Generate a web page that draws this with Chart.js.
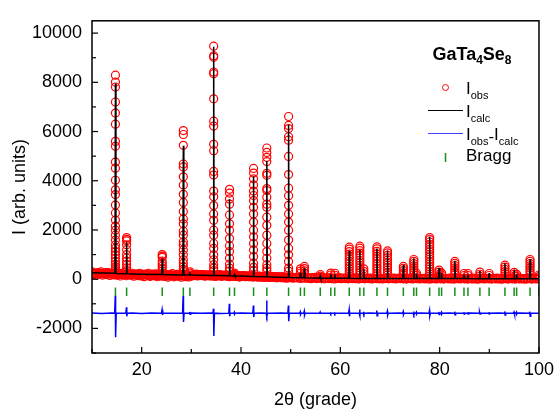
<!DOCTYPE html>
<html>
<head>
<meta charset="utf-8">
<script src="https://cdn.jsdelivr.net/npm/chart.js@4/dist/chart.umd.min.js"></script>
<style>
html,body{margin:0;padding:0;background:#fff;}
#wrap{width:560px;height:410px;position:relative;}
</style>
</head>
<body>
<div id="wrap"><canvas id="c"></canvas></div>
<script>
// ---------- data ----------
const xTicks = [20, 40, 60, 80, 100];
const xMinorTicks = [10, 30, 50, 70, 90];
const yTicks = [-2000, 0, 2000, 4000, 6000, 8000, 10000];
const yMinorTicks = [-3000, -1000, 1000, 3000, 5000, 7000, 9000];

// Bragg reflection positions (2theta)
const peakPos = [14.72,16.97,24.14,28.39,29.72,34.50,37.69,38.69,42.53,45.20,49.58,51.97,52.77,55.96,58.08,58.88,61.80,63.93,64.73,67.37,69.50,72.69,74.80,75.34,77.99,79.87,80.39,83.06,84.90,85.70,88.10,89.96,93.15,95.00,95.50,98.20,100.0];
// calculated intensity at peak maximum
const peakCalc = [7950,1500,830,5420,280,9450,3250,190,4180,4800,6280,260,440,130,200,200,1150,1190,400,1250,1170,580,850,220,1720,450,250,745,190,190,330,250,650,390,200,820,150];
// calculated background below each peak
const peakBase = [237,223,188,171,166,152,137,132,110,94,68,57,54,43,39,37,34,32,31,29,28,27,26,26,25,24,24,23,23,23,22,22,21,21,21,20,20];
// observed points on each peak
const peakObs = [
 [8290,8010,7810,7200,6750,6300,5600,5400,4760,4510,4020,3630,3440,3010,2690,2400,2160,1990,1790,1590,1390,1250,1120,990,850,720,600,500,420,350],
 [1690,1620,1560,1400,1200,1000,860,730,600,460,350],
 [1000,940,890,730,620,530,420,330],
 [6040,5880,5440,4680,4560,4160,3830,3450,3120,2750,2450,2250,1950,1790,1520,1390,1190,990,790,640,500,400,320],
 [300,240],
 [9470,9080,9020,8420,8350,7330,6420,6220,5480,5220,4380,4230,3580,3350,2990,2650,2390,1990,1790,1450,1250,990,790,590,450,350],
 [3650,3500,3260,3050,2610,2250,1990,1650,1360,1120,850,610,450,330],
 [250,190],
 [4500,4310,4080,3830,3580,3400,3190,2920,2650,2320,1990,1720,1450,1190,920,650,480,350],
 [5330,5150,4950,4780,4300,4220,3680,3600,3330,3050,2920,2520,2190,1790,1450,1120,850,590,450,340],
 [6610,6250,6120,5790,5650,4990,4250,3700,3390,3000,2650,2320,1990,1590,1250,990,720,450,330],
 [420,330,240],
 [520,430,340,250],
 [190,120],
 [250,170],
 [240,160],
 [1300,1220,1120,1020,920,820,720,620,520,420,320,220,130],
 [1340,1260,1160,1060,960,860,760,660,560,460,360,260,160],
 [420,320,220],
 [1310,1230,1130,1030,930,830,730,630,530,430,330,230,140],
 [1150,1070,970,870,770,670,570,470,370,270,170],
 [520,440,350,260,170],
 [800,720,630,540,450,360,270,180],
 [240,160],
 [1690,1610,1510,1410,1310,1210,1110,1010,910,810,710,610,510,410,310,210,120],
 [370,290,200,120],
 [250,170],
 [720,640,550,460,370,280,190],
 [230,150],
 [230,150],
 [290,200,120],
 [230,150],
 [570,490,400,310,220,130],
 [280,200,120],
 [200,120],
 [800,720,630,540,450,360,270,180],
 [170,100]
];
// difference curve extremes at each peak
const diffHi = [-670,-1140,-1240,-670,-1330,-1200,-1000,-1340,-1070,-870,-1070,-1330,-1300,-1340,-1340,-1340,-1240,-1230,-1320,-1270,-1300,-1320,-1310,-1340,-1270,-1330,-1340,-1320,-1340,-1340,-1340,-1340,-1310,-1330,-1340,-1320,-1350];
const diffLo = [-2360,-1510,-1460,-1740,-1430,-2310,-1510,-1420,-1540,-1510,-1710,-1430,-1460,-1420,-1420,-1420,-1510,-1490,-1440,-1490,-1460,-1440,-1450,-1420,-1490,-1440,-1420,-1450,-1420,-1420,-1420,-1420,-1460,-1440,-1420,-1510,-1410];
const diffBase = -1380;
const braggLevel = -510;
const peakHalfWidth = 0.1;
const diffHalfWidth = 0.03;
const diffFoot = 0.15;

// observed background points
const obsBgX = [
10,10.3,10.6,10.9,11.2,11.5,11.8,12.1,12.4,12.7,13,13.3,13.6,13.9,14.2,14.5,14.8,
15.1,15.4,15.7,16,16.3,16.6,16.9,17.2,17.5,17.8,18.1,18.4,18.7,19,19.3,19.6,19.9,
20.2,20.5,20.8,21.1,21.4,21.7,22,22.3,22.6,22.9,23.2,23.5,23.8,24.1,24.4,24.7,
25,25.3,25.6,25.9,26.2,26.5,26.8,27.1,27.4,27.7,28,28.3,28.6,28.9,29.2,29.5,29.8,
30.1,30.4,30.7,31,31.3,31.6,31.9,32.2,32.5,32.8,33.1,33.4,33.7,34,34.3,34.6,34.9,
35.2,35.5,35.8,36.1,36.4,36.7,37,37.3,37.6,37.9,38.2,38.5,38.8,39.1,39.4,39.7,
40,40.3,40.6,40.9,41.2,41.5,41.8,42.1,42.4,42.7,43,43.3,43.6,43.9,44.2,44.5,44.8,
45.1,45.4,45.7,46,46.3,46.6,46.9,47.2,47.5,47.8,48.1,48.4,48.7,49,49.3,49.6,49.9,
50.2,50.5,50.8,51.1,51.4,51.7,52,52.3,52.6,52.9,53.2,53.5,53.8,54.1,54.4,54.7,
55,55.3,55.6,55.9,56.2,56.5,56.8,57.1,57.4,57.7,58,58.3,58.6,58.9,59.2,59.5,59.8,
60.1,60.4,60.7,61,61.3,61.6,61.9,62.2,62.5,62.8,63.1,63.4,63.7,64,64.3,64.6,64.9,
65.2,65.5,65.8,66.1,66.4,66.7,67,67.3,67.6,67.9,68.2,68.5,68.8,69.1,69.4,69.7,
70,70.3,70.6,70.9,71.2,71.5,71.8,72.1,72.4,72.7,73,73.3,73.6,73.9,74.2,74.5,74.8,
75.1,75.4,75.7,76,76.3,76.6,76.9,77.2,77.5,77.8,78.1,78.4,78.7,79,79.3,79.6,79.9,
80.2,80.5,80.8,81.1,81.4,81.7,82,82.3,82.6,82.9,83.2,83.5,83.8,84.1,84.4,84.7,
85,85.3,85.6,85.9,86.2,86.5,86.8,87.1,87.4,87.7,88,88.3,88.6,88.9,89.2,89.5,89.8,
90.1,90.4,90.7,91,91.3,91.6,91.9,92.2,92.5,92.8,93.1,93.4,93.7,94,94.3,94.6,94.9,
95.2,95.5,95.8,96.1,96.4,96.7,97,97.3,97.6,97.9,98.2,98.5,98.8,99.1,99.4,99.7,100];
const obsBgY = [
298,188,249,158,264,217,296,168,221,264,190,269,150,221,237,172,269,
159,221,129,235,188,267,140,192,235,161,240,122,192,208,143,240,131,
192,101,208,162,241,114,167,211,138,217,99,170,187,123,220,111,
173,82,189,142,222,95,148,192,118,198,80,151,168,103,201,92,154,
125,184,158,202,131,160,184,143,188,122,161,170,134,188,127,161,110,
169,143,186,115,143,167,125,169,102,141,149,113,166,105,138,87,
139,119,149,99,118,134,103,133,86,113,118,91,128,84,107,70,110,
90,121,70,89,105,74,105,57,84,89,62,100,55,78,41,81,62,
92,42,62,79,48,79,32,60,66,39,77,33,57,21,61,42,
73,23,44,61,32,63,16,45,51,26,64,20,45,9,51,32,63,
20,35,47,26,49,16,36,41,23,51,20,37,12,42,29,51,16,
31,44,22,45,12,33,38,19,47,16,34,9,38,25,48,13,
28,41,20,42,9,30,35,17,45,14,31,6,36,23,46,11,26,
39,17,40,7,28,33,15,43,12,29,4,34,21,44,9,24,37,
16,39,6,27,32,13,41,10,28,3,33,20,43,8,23,36,
15,38,4,25,30,12,40,9,27,2,32,19,42,7,22,35,14,
37,4,25,30,12,39,8,26,1,31,18,41,6,21,34,13,36,
3,24,29,10,38,7,25,0,30,17,40,5,20,33,12,35,10];

// additional observed background points (low angles, interleaved)
const obsBg2X = [
10.15,10.45,10.75,11.05,11.35,11.65,11.95,12.25,12.55,12.85,
13.15,13.45,13.75,14.05,14.35,14.65,14.95,15.25,15.55,15.85,
16.15,16.45,16.75,17.05,17.35,17.65,17.95,18.25,18.55,18.85,
19.15,19.45,19.75,20.05,20.35,20.65,20.95,21.25,21.55,21.85,
22.15,22.45,22.75,23.05,23.35,23.65,23.95,24.25,24.55,24.85,
25.15,25.45,25.75,26.05,26.35,26.65,26.95,27.25,27.55,27.85,
28.15,28.45,28.75,29.05,29.35,29.65,29.95,30.25,30.55,30.85,
31.15,31.45,31.75,32.05,32.35,32.65,32.95,33.25,33.55,33.85,
34.15,34.45,34.75,35.05,35.35,35.65,35.95,36.25,36.55,36.85,
37.15,37.45,37.75,38.05,38.35,38.65,38.95,39.25,39.55,39.85,
40.15,40.45,40.75,41.05,41.35,41.65,41.95,42.25,42.55,42.85,
43.15,43.45,43.75,44.05,44.35,44.65,44.95,45.25,45.55,45.85,
46.15,46.45,46.75,47.05,47.35,47.65,47.95,48.25,48.55,48.85,
49.15,49.45,49.75];
const obsBg2Y = [
249,222,235,214,237,225,238,212,225,203,
226,214,227,201,214,192,215,204,217,190,
203,181,205,193,206,179,192,171,194,182,
195,168,182,160,184,172,186,160,174,153,
176,165,179,153,167,145,169,158,172,146,
159,138,162,151,165,138,152,131,155,144,
157,131,145,124,147,136,150,154,168,147,
172,161,175,149,163,142,167,156,170,144,
158,137,161,150,163,137,150,129,152,141,
154,128,141,120,143,132,145,119,132,111,
134,122,135,109,122,100,123,111,125,98,
111,89,112,100,114,87,100,79,102,90,
103,76,90,68,91,79,92,66,79,57,
80,68,82];

// calculated background knots
const calcBgX = [10,15,20,25,30,35,40,45,50,55,60,65,70,75,80,85,90,95,100];
const calcBgY = [265,235,205,185,165,150,125,95,65,45,35,31,28,26,24,23,22,21,20];

// difference curve baseline knots
const diffBgX = [10,12,14,16,18,20,22,24,26,28,30,32,34,36,38,40,42,44,46,48,50,52,54,56,58,60,62,64,66,68,70,72,74,76,78,80,82,84,86,88,90,92,94,96,98,100];
const diffBgY = [-1370,-1390,-1375,-1385,-1372,-1392,-1378,-1368,-1388,-1380,-1374,-1386,-1370,-1390,-1382,-1376,-1384,-1372,-1388,-1378,-1382,-1374,-1386,-1380,-1376,-1384,-1378,-1382,-1374,-1388,-1380,-1376,-1384,-1378,-1382,-1380,-1376,-1384,-1378,-1382,-1380,-1376,-1384,-1378,-1382,-1380];

// ---------- build tables ----------
const obsPoints = obsBgX.map((x, i) => ({x: x, y: obsBgY[i]}));
obsBg2X.forEach((x, i) => obsPoints.push({x: x, y: obsBg2Y[i]}));
peakPos.forEach((p, i) => peakObs[i].forEach(v => obsPoints.push({x: p, y: v})));

const calcPoints = calcBgX.map((x, i) => ({x: x, y: calcBgY[i]}));
peakPos.forEach((p, i) => {
  calcPoints.push({x: p - peakHalfWidth, y: peakBase[i]});
  calcPoints.push({x: p, y: peakCalc[i]});
  calcPoints.push({x: p + peakHalfWidth, y: peakBase[i]});
});
calcPoints.sort((a, b) => a.x - b.x);

const diffPoints = diffBgX.map((x, i) => ({x: x, y: diffBgY[i]}));
peakPos.forEach((p, i) => {
  diffPoints.push({x: p - diffFoot, y: diffBase});
  diffPoints.push({x: p - diffHalfWidth, y: diffHi[i]});
  diffPoints.push({x: p + diffHalfWidth, y: diffLo[i]});
  diffPoints.push({x: p + diffFoot, y: diffBase});
});
diffPoints.sort((a, b) => a.x - b.x);

const braggPoints = peakPos.map(p => ({x: p, y: braggLevel}));

// ---------- drawing ----------
const FONT = '"Liberation Sans", Arial, Helvetica, sans-serif';

const framePlugin = {
  id: 'frame',
  afterDraw(chart) {
    const ctx = chart.ctx, a = chart.chartArea;
    const xs = chart.scales.x, ys = chart.scales.y;
    ctx.save();
    ctx.strokeStyle = '#000';
    ctx.lineWidth = 1.2;
    const tick = (x1, y1, x2, y2) => { ctx.beginPath(); ctx.moveTo(x1, y1); ctx.lineTo(x2, y2); ctx.stroke(); };
    xTicks.forEach(v => { const px = xs.getPixelForValue(v); tick(px, a.bottom, px, a.bottom - 6); });
    xMinorTicks.forEach(v => { const px = xs.getPixelForValue(v); tick(px, a.bottom, px, a.bottom - 4); });
    yTicks.forEach(v => { const py = ys.getPixelForValue(v); tick(a.left, py, a.left + 6, py); });
    yMinorTicks.forEach(v => { const py = ys.getPixelForValue(v); tick(a.left, py, a.left + 4, py); });
    ctx.lineWidth = 1.5;
    ctx.strokeRect(a.left, a.top, a.right - a.left, a.bottom - a.top);
    ctx.restore();
  }
};

function drawParts(ctx, x, y, parts) {
  for (const [t, dy, f] of parts) {
    ctx.font = f + ' ' + FONT;
    ctx.fillText(t, x, y + dy);
    x += ctx.measureText(t).width;
  }
}

const legendPlugin = {
  id: 'customLegend',
  afterDraw(chart) {
    const ctx = chart.ctx;
    ctx.save();
    ctx.fillStyle = '#000';
    ctx.textAlign = 'left';
    ctx.textBaseline = 'alphabetic';
    drawParts(ctx, 432.5, 59.5, [['GaTa', 0, 'bold 18px'], ['4', 4, 'bold 12px'], ['Se', 0, 'bold 18px'], ['8', 4, 'bold 12px']]);
    const L = '17px', S = '11px';
    const tx = 466;
    // I_obs
    ctx.strokeStyle = '#ff0000'; ctx.lineWidth = 1;
    ctx.beginPath(); ctx.arc(445.5, 87.5, 3, 0, Math.PI * 2); ctx.stroke();
    drawParts(ctx, tx, 94, [['I', 0, L], ['obs', 4.5, S]]);
    // I_calc
    ctx.strokeStyle = '#000'; ctx.lineWidth = 1;
    ctx.beginPath(); ctx.moveTo(428, 110.5); ctx.lineTo(463, 110.5); ctx.stroke();
    drawParts(ctx, tx, 117, [['I', 0, L], ['calc', 4.5, S]]);
    // I_obs - I_calc
    ctx.strokeStyle = '#4040ff'; ctx.lineWidth = 1.2;
    ctx.beginPath(); ctx.moveTo(428, 133.5); ctx.lineTo(463, 133.5); ctx.stroke();
    drawParts(ctx, tx, 140, [['I', 0, L], ['obs', 4.5, S], ['-', 2, L], ['I', 0, L], ['calc', 4.5, S]]);
    // Bragg
    ctx.strokeStyle = '#1a8f1a'; ctx.lineWidth = 1.5;
    ctx.beginPath(); ctx.moveTo(445.5, 153); ctx.lineTo(445.5, 162); ctx.stroke();
    drawParts(ctx, tx, 160.5, [['Bragg', 0, L]]);
    ctx.restore();
  }
};

new Chart(document.getElementById('c'), {
  type: 'scatter',
  data: {
    datasets: [
      { label: 'Iobs', data: obsPoints, showLine: false, pointRadius: 4, pointBorderWidth: 1.2,
        pointBorderColor: '#ff0000', pointBackgroundColor: 'rgba(0,0,0,0)', order: 3 },
      { label: 'Icalc', data: calcPoints, showLine: true, borderColor: '#000000', borderWidth: 1.5,
        pointRadius: 0, tension: 0, order: 2 },
      { label: 'Iobs-Icalc', data: diffPoints, showLine: true, borderColor: '#0000ff', borderWidth: 1.5,
        pointRadius: 0, tension: 0, order: 1 },
      { label: 'Bragg', data: braggPoints, showLine: false, pointStyle: 'line', rotation: 90,
        pointRadius: 4.3, pointBorderWidth: 1.5, pointBorderColor: '#1a8f1a', order: 0 }
    ]
  },
  options: {
    responsive: true,
    maintainAspectRatio: false,
    animation: false,
    events: [],
    layout: { padding: { left: 0, top: 16, right: 16, bottom: 0 } },
    plugins: { legend: { display: false }, tooltip: { enabled: false }, title: { display: false } },
    scales: {
      x: {
        type: 'linear', min: 10, max: 100,
        afterBuildTicks: s => { s.ticks = xTicks.map(v => ({value: v})); },
        afterFit: s => { s.height = 57; },
        grid: { display: false, drawTicks: false },
        border: { display: false },
        ticks: { color: '#000', font: { family: FONT, size: 18 }, padding: 6, maxRotation: 0, autoSkip: false,
                 callback: v => String(v) },
        title: { display: true, text: '2θ (grade)', color: '#000', font: { family: FONT, size: 18 }, padding: { top: 0, bottom: -1 } }
      },
      y: {
        type: 'linear', min: -3000, max: 10500,
        afterBuildTicks: s => { s.ticks = yTicks.map(v => ({value: v})); },
        afterFit: s => { s.width = 92; },
        grid: { display: false, drawTicks: false },
        border: { display: false },
        ticks: { color: '#000', font: { family: FONT, size: 18 }, padding: 10, autoSkip: false,
                 callback: v => String(v) },
        title: { display: true, text: 'I (arb. units)', color: '#000', font: { family: FONT, size: 18 }, padding: { top: 9, bottom: 0 } }
      }
    }
  },
  plugins: [framePlugin, legendPlugin]
});
</script>
</body>
</html>
